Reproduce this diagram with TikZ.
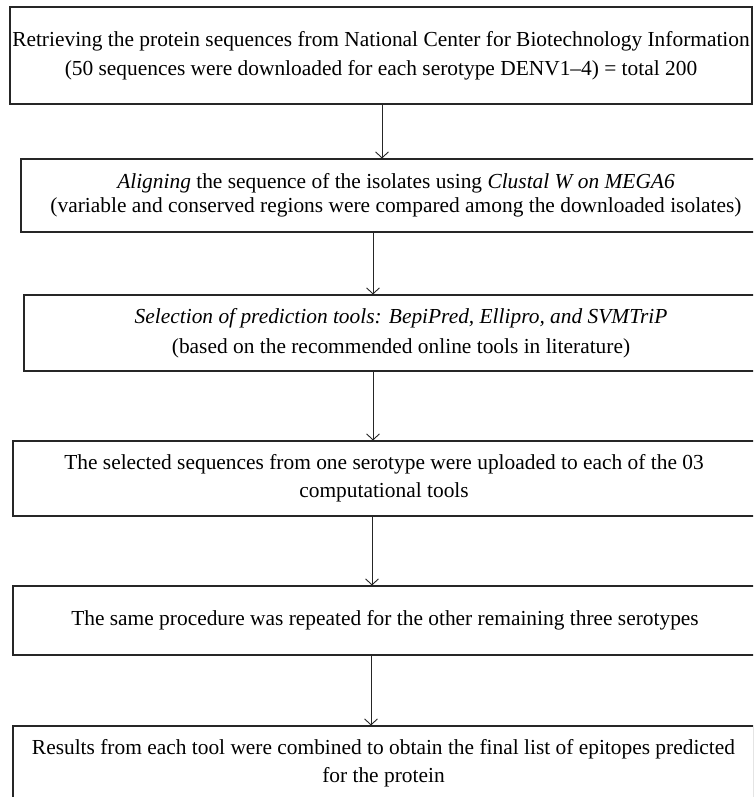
\documentclass[tikz,border=0pt]{standalone}
\usepackage{fontspec}
\setmainfont{Liberation Serif}
\usetikzlibrary{arrows.meta}
\begin{document}
\begin{tikzpicture}[x=1pt,y=-1pt,
  stepbox/.style={draw=black!85, line width=1.1pt, inner sep=0pt, align=center,
    font=\fontsize{21.4}{29}\selectfont},
  flow/.style={draw=black!85, line width=0.9pt, -{Straight Barb[length=6pt,width=13pt]}}]
\useasboundingbox (0,0) rectangle (753,797);
\clip (0,0) rectangle (753,797);
\node[stepbox, minimum width=742pt, minimum height=97pt] (b1) at (381,55.5)
  {Retrieving the protein sequences from National Center for Biotechnology Information\\
   (50 sequences were downloaded for each serotype DENV1–4) = total 200};
\node[stepbox, minimum width=750pt, minimum height=73pt] (b2) at (396,195.5)
  {\textit{Aligning} the sequence of the isolates using \textit{Clustal W on MEGA6}\\[-5pt]
   (variable and conserved regions were compared among the downloaded isolates)};
\node[stepbox, minimum width=754pt, minimum height=76pt] (b3) at (401,333)
  {\textit{Selection of prediction tools: BepiPred, Ellipro, and SVMTriP}\\[1pt]
   (based on the recommended online tools in literature)};
\node[stepbox, minimum width=742pt, minimum height=75pt] (b4) at (384,478.5)
  {The selected sequences from one serotype were uploaded to each of the 03\\[-1pt]
   computational tools};
\node[stepbox, minimum width=744pt, minimum height=69pt] (b5) at (385,620.5)
  {The same procedure was repeated for the other remaining three serotypes};
\node[stepbox, minimum width=741pt, minimum height=75pt] (b6) at (383.5,763.5)
  {Results from each tool were combined to obtain the final list of epitopes predicted\\[-1pt]
   for the protein};
\coordinate (a1) at (382,0);
\coordinate (a2) at (373,0);
\coordinate (a3) at (373,0);
\coordinate (a4) at (372,0);
\coordinate (a5) at (371,0);
\draw[flow] (b1.south -| a1) -- (b2.north -| a1);
\draw[flow] (b2.south -| a2) -- (b3.north -| a2);
\draw[flow] (b3.south -| a3) -- (b4.north -| a3);
\draw[flow] (b4.south -| a4) -- (b5.north -| a4);
\draw[flow] (b5.south -| a5) -- (b6.north -| a5);
\end{tikzpicture}
\end{document}
